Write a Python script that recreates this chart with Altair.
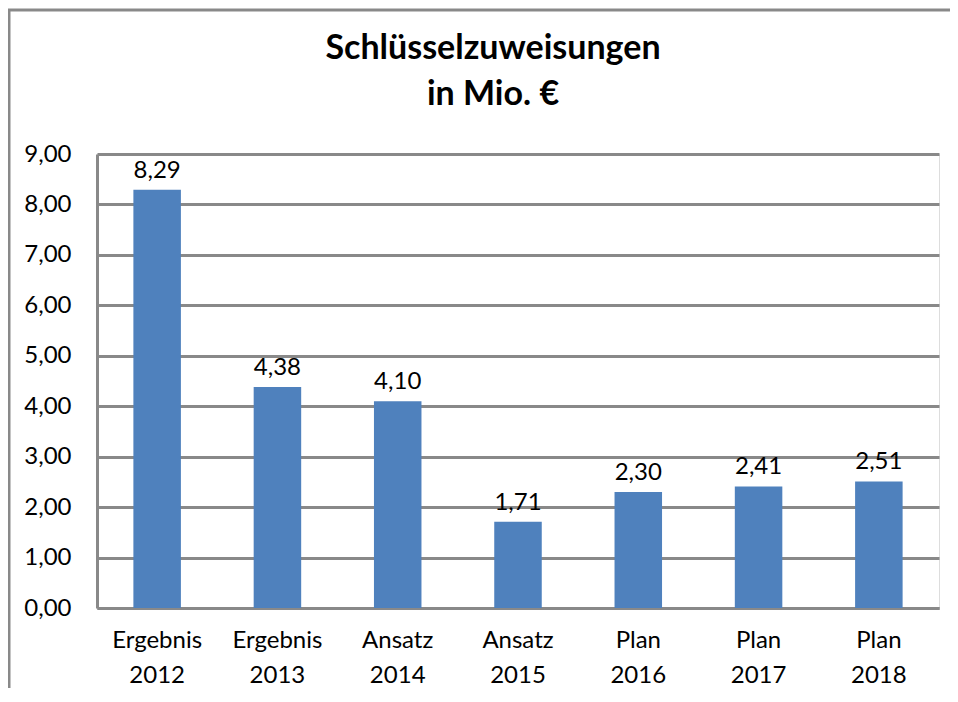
import altair as alt
import pandas as pd

categories = ["Ergebnis 2012", "Ergebnis 2013", "Ansatz 2014", "Ansatz 2015",
              "Plan 2016", "Plan 2017", "Plan 2018"]
values = [8.29, 4.38, 4.10, 1.71, 2.30, 2.41, 2.51]
y_ticks = [0, 1, 2, 3, 4, 5, 6, 7, 8, 9]
title_lines = ["Schlüsselzuweisungen", "in Mio. €"]

df = pd.DataFrame({"cat": categories, "val": values})

FONT = "Lato"
GRAY = "#898989"
BLUE = "#4F81BD"

x_enc = alt.X(
    "cat:N", sort=categories, title=None,
    scale=alt.Scale(paddingInner=0.605, paddingOuter=0.3025),
    axis=alt.Axis(labelExpr="split(datum.label, ' ')", labelAngle=0,
                  labelLineHeight=35, labelFontSize=24, labelFont=FONT,
                  labelColor="#000000", labelPadding=20, ticks=False,
                  domainColor=GRAY, domainWidth=3, grid=False,
                  labelBaseline="top"),
)
y_enc = alt.Y(
    "val:Q", title=None,
    scale=alt.Scale(domain=[0, 9], nice=False),
    axis=alt.Axis(values=y_ticks, labelExpr="replace(format(datum.value, '.2f'), '.', ',')",
                  labelFontSize=24, labelFont=FONT, labelColor="#000000",
                  labelPadding=26, ticks=False, domainColor=GRAY, domainWidth=3,
                  grid=True, gridColor=GRAY, gridWidth=3),
)

base = alt.Chart(df)

bars = base.mark_bar(color=BLUE).encode(x=x_enc, y=y_enc)

texts = base.transform_calculate(
    lbl="replace(format(datum.val, '.2f'), '.', ',')"
).mark_text(font=FONT, fontSize=24, color="#000000", baseline="alphabetic", dy=-12).encode(
    x=alt.X("cat:N", sort=categories),
    y=alt.Y("val:Q"),
    text="lbl:N",
)

title_df = pd.DataFrame({"t": ["\n".join(title_lines)]})
title_mark = alt.Chart(title_df).mark_text(
    font=FONT, fontSize=34, fontWeight="bold", color="#000000",
    baseline="alphabetic", align="center", lineBreak="\n", lineHeight=46,
).encode(x=alt.value(396), y=alt.value(-95), text="t:N")

frame_data = alt.Data(values=[{"k": 1}])
left_border = alt.Chart(frame_data).mark_rule(color=GRAY, strokeWidth=3).encode(
    x=alt.value(-88), y=alt.value(-145), y2=alt.value(600)
)
top_border = alt.Chart(frame_data).mark_rule(color=GRAY, strokeWidth=3).encode(
    x=alt.value(-90), x2=alt.value(900), y=alt.value(-144)
)

chart = alt.layer(bars, texts, title_mark, left_border, top_border).properties(
    width=842, height=454,
    padding={"left": 89, "top": 146, "right": 11, "bottom": 80},
    autosize=alt.AutoSizeParams(type="none"),
).configure_view(stroke=None).configure(background="white")

chart.save("out.html", embed_options={"renderer": "svg", "actions": False})
